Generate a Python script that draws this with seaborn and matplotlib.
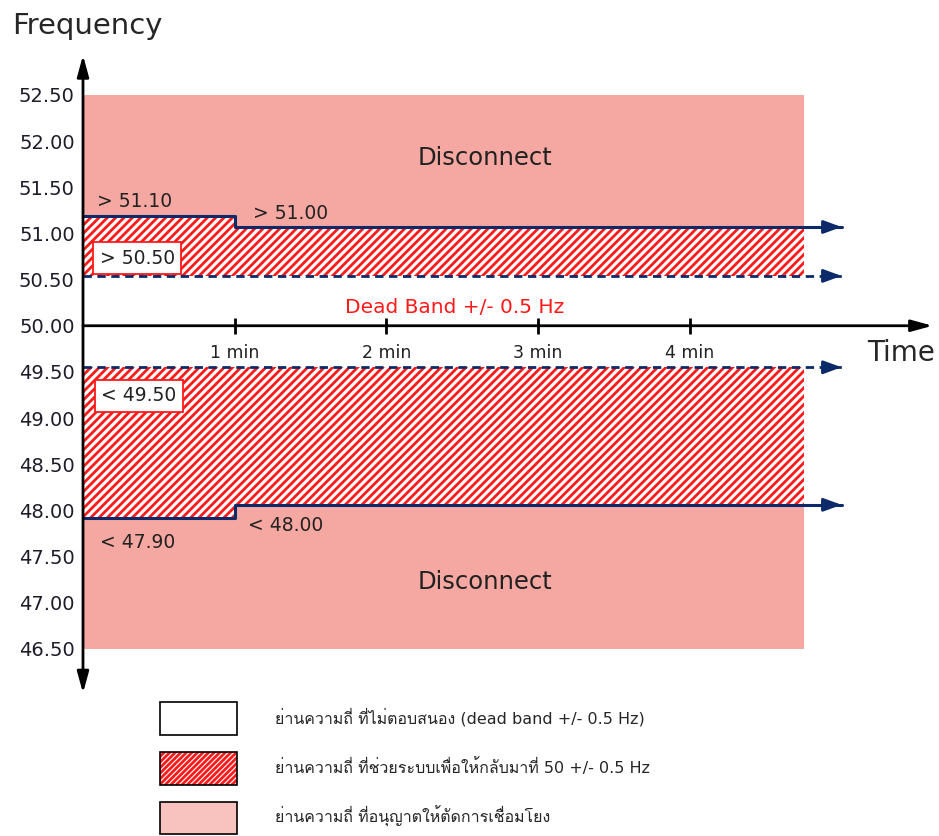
"""
Frequency bands for generator disconnect / support (Thai grid code figure)
"""

import matplotlib
matplotlib.use("Agg")
import matplotlib.pyplot as plt
import seaborn as sns
from matplotlib import font_manager
from matplotlib.ft2font import FT2Font
from matplotlib.patches import Patch

# ---- data ----
freq_ticks = [52.5, 52.0, 51.5, 51.0, 50.5, 50.0, 49.5, 49.0, 48.5, 48.0, 47.5, 47.0, 46.5]
minutes = [1, 2, 3, 4]
minute_labels = ["1 min", "2 min", "3 min", "4 min"]

step_x = [0, 1, 4.75]                  # band edges in minutes
upper_trip = [51.19, 51.07, 51.07]     # drawn level of > 51.10 / > 51.00
lower_trip = [47.92, 48.06, 48.06]     # drawn level of < 47.90 / < 48.00
dead_hi = 50.54
dead_lo = 49.55
disc_top = 52.5
disc_bottom = 46.5
line_end = 5.0
time_end = 5.6

upper_labels = ["> 51.10", "> 51.00"]
lower_labels = ["< 47.90", "< 48.00"]
dead_labels = ["> 50.50", "< 49.50"]

legend_labels = [
    "ย่านความถี่ ที่ไม่ตอบสนอง (dead band +/- 0.5 Hz)",
    "ย่านความถี่ ที่ช่วยระบบเพื่อให้กลับมาที่ 50 +/- 0.5 Hz",
    "ย่านความถี่ ที่อนุญาตให้ตัดการเชื่อมโยง",
]

PINK = "#F5A7A1"
NAVY = "#0C2A6A"
RED = "#FF1A1A"


def thai_fonts():
    names = []
    for f in font_manager.fontManager.ttflist:
        try:
            if 0x0E22 in FT2Font(f.fname).get_charmap() and f.name not in names:
                names.append(f.name)
        except Exception:
            pass
    return names


def arrow_head(ax, y):
    ax.annotate("", xy=(line_end, y), xytext=(line_end - 0.12, y),
                arrowprops=dict(arrowstyle="-|>,head_length=0.6,head_width=0.22",
                                color=NAVY, lw=2, mutation_scale=18,
                                shrinkA=0, shrinkB=0))


def main():
    sns.set_style("white")
    plt.rcParams["font.family"] = ["DejaVu Sans"] + thai_fonts()
    plt.rcParams["hatch.linewidth"] = 2.0

    fig = plt.figure(figsize=(9.39, 8.36), dpi=100)
    ax = fig.add_axes([83 / 939, 0, (939 - 83) / 939, 1])
    ax.set_xlim(0, (939 - 83) / 151.7)
    ax.set_ylim(52.5 - 741 / 92.3, 52.5 + 95 / 92.3)

    # disconnect zones
    ax.fill_between(step_x, upper_trip, disc_top, step="post", color=PINK, lw=0)
    ax.fill_between(step_x, disc_bottom, lower_trip, step="post", color=PINK, lw=0)
    # support zones (hatched)
    ax.fill_between(step_x, dead_hi, upper_trip, step="post", facecolor="white",
                    edgecolor=RED, hatch="////", lw=0)
    ax.fill_between(step_x, lower_trip, dead_lo, step="post", facecolor="white",
                    edgecolor=RED, hatch="////", lw=0)

    # trip lines
    line_x = step_x[:2] + [line_end]
    sns.lineplot(x=line_x, y=upper_trip, drawstyle="steps-post", color=NAVY, lw=2.2, ax=ax)
    sns.lineplot(x=line_x, y=lower_trip, drawstyle="steps-post", color=NAVY, lw=2.2, ax=ax)
    sns.lineplot(x=[0, line_end], y=[dead_hi, dead_hi], color=NAVY, lw=2, ls=(0, (3, 2)), ax=ax)
    sns.lineplot(x=[0, line_end], y=[dead_lo, dead_lo], color=NAVY, lw=2, ls=(0, (3, 2)), ax=ax)
    for y in [upper_trip[-1], lower_trip[-1], dead_hi, dead_lo]:
        arrow_head(ax, y)

    # axes with arrows
    ax.annotate("", xy=(0, 52.93), xytext=(0, 46.02),
                arrowprops=dict(arrowstyle="<|-|>,head_length=0.8,head_width=0.22",
                                color="black", lw=2, mutation_scale=16,
                                shrinkA=0, shrinkB=0))
    ax.annotate("", xy=(time_end, 50.0), xytext=(0, 50.0),
                arrowprops=dict(arrowstyle="-|>,head_length=0.8,head_width=0.22",
                                color="black", lw=2, mutation_scale=16,
                                shrinkA=0, shrinkB=0))
    ax.plot(minutes, [50.0] * len(minutes), ls="none", marker="|", ms=11, mew=2, color="black")
    for m, lab in zip(minutes, minute_labels):
        ax.text(m, 49.70, lab, ha="center", va="center", fontsize=12.5, color="#222222")

    # texts
    ax.text(2.65, 51.82, "Disconnect", ha="center", va="center", fontsize=17.5, color="#222222")
    ax.text(2.65, 47.22, "Disconnect", ha="center", va="center", fontsize=17.5, color="#222222")
    ax.text(2.45, 50.20, "Dead Band +/- 0.5 Hz", ha="center", va="center", fontsize=14.5, color=RED)
    ax.text(5.39, 49.70, "Time", ha="center", va="center", fontsize=20)
    fig.text(12 / 939, 1 - 26 / 836, "Frequency", ha="left", va="center", fontsize=21)

    ax.text(0.09, 51.35, upper_labels[0], ha="left", va="center", fontsize=13.5, color="#222222")
    ax.text(1.12, 51.22, upper_labels[1], ha="left", va="center", fontsize=13.5, color="#222222")
    ax.text(0.11, 47.65, lower_labels[0], ha="left", va="center", fontsize=13.5, color="#222222")
    ax.text(1.09, 47.84, lower_labels[1], ha="left", va="center", fontsize=13.5, color="#222222")
    box = dict(boxstyle="square,pad=0.35", fc="white", ec=RED, lw=1.3)
    ax.text(0.11, 50.73, dead_labels[0], ha="left", va="center", fontsize=13.5,
            color="#222222", bbox=box)
    ax.text(0.12, 49.24, dead_labels[1], ha="left", va="center", fontsize=13.5,
            color="#222222", bbox=box)

    # y ticks
    ax.set_yticks(freq_ticks)
    ax.set_yticklabels([f"{v:.2f}" for v in freq_ticks], fontsize=14, color="#1c1c2a")
    ax.tick_params(axis="y", length=0, pad=6)
    ax.set_xticks([])
    ax.set_xlabel("")
    ax.set_ylabel("")
    sns.despine(ax=ax, left=True, bottom=True)

    # legend
    outline = dict(fc="none", ec="black", lw=1.2)
    handles = [
        Patch(fc="white", ec="black", lw=1.2),
        (Patch(fc="white", ec=RED, hatch="//////", lw=0), Patch(**outline)),
        (Patch(fc="#F8C3BF", lw=0), Patch(**outline)),
    ]
    fig.legend(handles, legend_labels, loc="upper left",
               bbox_to_anchor=(160 / 939, 1 - 702 / 836), frameon=False,
               fontsize=11.5, handlelength=4.8, handleheight=2.8,
               labelspacing=1.05, handletextpad=2.4, borderpad=0, borderaxespad=0)

    fig.savefig("out.png", dpi=100)


if __name__ == "__main__":
    main()
